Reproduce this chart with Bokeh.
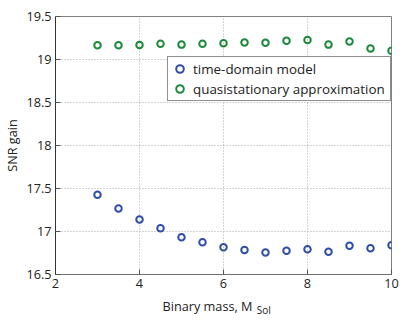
from bokeh.plotting import figure
from bokeh.layouts import column
from bokeh.models import (Range1d, FixedTicker, NumeralTickFormatter,
                          Legend, LegendItem)
from bokeh.core.properties import value
from bokeh.embed import file_html
from bokeh.resources import INLINE

mass = [3.0, 3.5, 4.0, 4.5, 5.0, 5.5, 6.0, 6.5, 7.0, 7.5, 8.0, 8.5, 9.0, 9.5, 10.0]
time_domain = [17.427, 17.268, 17.140, 17.037, 16.933, 16.875, 16.816, 16.786,
               16.757, 16.775, 16.793, 16.764, 16.834, 16.805, 16.841]
quasistationary = [19.166, 19.166, 19.170, 19.184, 19.173, 19.184, 19.190, 19.199,
                   19.195, 19.217, 19.228, 19.173, 19.210, 19.129, 19.103]
x_ticks = [2, 4, 6, 8, 10]
y_ticks = [16.5, 17, 17.5, 18, 18.5, 19, 19.5]
x_label_main = "Binary mass, M"
x_label_sub = "Sol"

FONT = "Open Sans"
BLUE = "#2E4DA7"
GREEN = "#1A8A3A"
TXT = "#222222"

p = figure(width=399, height=296, output_backend="svg", toolbar_location=None,
           x_range=Range1d(2, 10), y_range=Range1d(16.5, 19.5),
           min_border_left=50, min_border_right=8, min_border_top=16, min_border_bottom=22)
p.outline_line_color = "#808080"
p.background_fill_color = "white"
p.border_fill_color = "white"

r1 = p.scatter(mass, time_domain, size=6.5, line_width=2, line_color=BLUE, fill_color=None)
r2 = p.scatter(mass, quasistationary, size=6.5, line_width=2, line_color=GREEN, fill_color=None)

for ax in [p.xaxis[0], p.yaxis[0]]:
    ax.major_tick_in = 5
    ax.major_tick_out = 0
    ax.minor_tick_in = 0
    ax.minor_tick_out = 0
    ax.major_tick_line_color = "#555555"
    ax.major_label_text_font = FONT
    ax.major_label_text_font_size = "12.7px"
    ax.major_label_text_color = TXT
    ax.axis_label_text_font = FONT
    ax.axis_label_text_font_size = "12.7px"
    ax.axis_label_text_font_style = "normal"
    ax.axis_label_text_color = TXT
    ax.major_label_standoff = 4
    ax.axis_label_standoff = 2
p.xaxis[0].axis_line_color = "#707070"
p.yaxis[0].axis_line_color = "#333333"

p.xaxis[0].ticker = FixedTicker(ticks=x_ticks)
p.yaxis[0].ticker = FixedTicker(ticks=y_ticks)
p.xaxis[0].formatter = NumeralTickFormatter(format="0.[0]")
p.yaxis[0].formatter = NumeralTickFormatter(format="0.[0]")
p.yaxis[0].axis_label = "SNR gain"

p.xgrid.ticker = FixedTicker(ticks=x_ticks)
p.ygrid.ticker = FixedTicker(ticks=y_ticks)
for g in [p.xgrid[0], p.ygrid[0]]:
    g.grid_line_color = "#a8a8a8"
    g.grid_line_dash = "1 2"
    g.grid_line_width = 1

legend = Legend(items=[LegendItem(label="time-domain model", renderers=[r1]),
                       LegendItem(label="quasistationary approximation", renderers=[r2])],
                location=(112, 173))
legend.label_text_font = FONT
legend.label_text_font_size = "13.4px"
legend.label_text_color = TXT
legend.padding = 2
legend.spacing = 1
legend.margin = 0
legend.glyph_width = 19
legend.glyph_height = 19
legend.label_height = 19
legend.label_width = 195
legend.label_standoff = 4
legend.border_line_color = "#222222"
legend.border_line_width = 1
legend.background_fill_color = "white"
legend.background_fill_alpha = 1
p.add_layout(legend, "center")

# x-axis label strip (with subscript), sharing the x range
p2 = figure(width=399, height=20, output_backend="svg", toolbar_location=None,
            x_range=p.x_range, y_range=Range1d(0, 20),
            min_border_left=50, min_border_right=8, min_border_top=0, min_border_bottom=0)
p2.axis.visible = False
p2.grid.visible = False
p2.outline_line_color = None
p2.background_fill_color = "white"
p2.border_fill_color = "white"
p2.text(x=[6.69], y=[11], text=[x_label_main], text_align="right", text_baseline="middle",
        text_font=value(FONT), text_font_size="12.7px", text_color=TXT)
p2.text(x=[6.79], y=[6.5], text=[x_label_sub], text_align="left", text_baseline="middle",
        text_font=value(FONT), text_font_size="10px", text_color=TXT)

layout = column(p, p2, spacing=0)
open("out.html", "w").write(file_html(layout, INLINE))
